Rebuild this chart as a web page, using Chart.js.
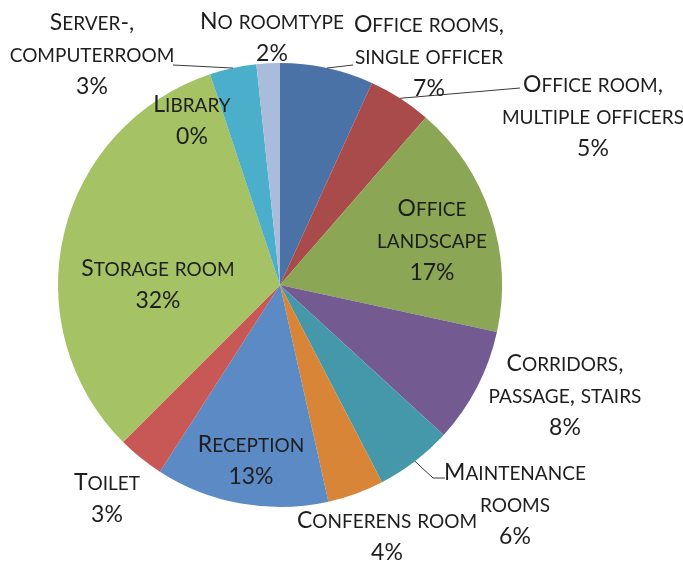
<!DOCTYPE html>
<html>
<head>
<meta charset="utf-8">
<script src="https://cdn.jsdelivr.net/npm/chart.js@4/dist/chart.umd.min.js"></script>
<style>
  html, body { margin: 0; padding: 0; background: #fff; }
  #wrap { width: 683px; height: 565px; position: relative; }
</style>
</head>
<body>
<div id="wrap"><canvas id="roomPie" width="683" height="565"></canvas></div>
<script>
// ============================================================
// Room type distribution — pie with Excel-style small-caps labels
// ============================================================

// ── Data ────────────────────────────────────────────────────

const categories = [
  'Office rooms, single officer',
  'Office room, multiple officers',
  'Office landscape',
  'Corridors, passage, stairs',
  'Maintenance rooms',
  'Conferens room',
  'Reception',
  'Toilet',
  'Storage room',
  'Library',
  'Server-, computerroom',
  'No roomtype'
];

const shares = [6.8, 4.6, 17.0, 8.4, 5.6, 4.1, 12.6, 3.4, 32.4, 0, 3.4, 1.7];

const sliceColors = [
  '#4a72a6', '#a94b4a', '#8ba654', '#735b92', '#4598a9', '#d88537',
  '#5b8ac5', '#c75855', '#a5c365', '#8064a2', '#4bafcb', '#a9bcdb'
];

// label text split into lines (percent line is appended from the data)
const labelLines = [
  ['Office rooms,', 'single officer'],
  ['Office room,', 'multiple officers'],
  ['Office', 'landscape'],
  ['Corridors,', 'passage, stairs'],
  ['Maintenance', 'rooms'],
  ['Conferens room'],
  ['Reception'],
  ['Toilet'],
  ['Storage room'],
  ['Library'],
  ['Server-,', 'computerroom'],
  ['No roomtype']
];

// ── Label layout (offsets from pie centre, in radii) ────────

const R = 222;
const labelPos = [
  [ 149 / R, -253 / R],
  [ 313 / R, -193 / R],
  [ 152 / R,  -69 / R],
  [ 285 / R,   86 / R],
  [ 235 / R,  195 / R],
  [ 107 / R,  243 / R],
  [ -29 / R,  167 / R],
  [-173 / R,  205 / R],
  [-122 / R,   -9 / R],
  [ -88 / R, -173 / R],
  [-188 / R, -255 / R],
  [  -8 / R, -256 / R]
];

// leader lines: slice index -> extra points after the arc edge (in radii from centre)
const leaders = {
  0:  [[ 73 / R, -220 / R]],
  1:  [[240 / R, -197 / R]],
  4:  [[153 / R,  193 / R], [165 / R, 193 / R]],
  10: [[-107 / R, -220 / R]]
};

const LINE_H = 32;
const BIG = 23, SMALL = 19;
const FAMILY = 'Lato, "Open Sans", sans-serif';

// ── Small caps text ─────────────────────────────────────────

function runsOf(text) {
  const runs = [];
  for (const ch of text) {
    const small = ch !== ch.toUpperCase();
    const last = runs[runs.length - 1];
    if (last && last.small === small) last.t += ch.toUpperCase();
    else runs.push({ t: ch.toUpperCase(), small });
  }
  return runs;
}

function drawSmallCaps(ctx, text, cx, y) {
  const runs = runsOf(text);
  let w = 0;
  runs.forEach(r => {
    ctx.font = (r.small ? SMALL : BIG) + 'px ' + FAMILY;
    r.w = ctx.measureText(r.t).width;
    w += r.w;
  });
  let x = cx - w / 2;
  runs.forEach(r => {
    ctx.font = (r.small ? SMALL : BIG) + 'px ' + FAMILY;
    ctx.fillText(r.t, x, y);
    x += r.w;
  });
}

// ── Label plugin ────────────────────────────────────────────

const pieLabels = {
  id: 'pieLabels',
  afterDatasetsDraw(chart) {
    const ctx = chart.ctx;
    const meta = chart.getDatasetMeta(0);
    const total = shares.reduce((a, b) => a + b, 0);
    ctx.save();

    // leader lines
    ctx.strokeStyle = '#3a3a3a';
    ctx.lineWidth = 1;
    Object.keys(leaders).forEach(k => {
      const arc = meta.data[k];
      const mid = (arc.startAngle + arc.endAngle) / 2;
      const r = arc.outerRadius;
      ctx.beginPath();
      ctx.moveTo(arc.x + Math.cos(mid) * r, arc.y + Math.sin(mid) * r);
      leaders[k].forEach(p => ctx.lineTo(arc.x + p[0] * r, arc.y + p[1] * r));
      ctx.stroke();
    });

    // text
    ctx.fillStyle = '#1e1e1e';
    ctx.textAlign = 'left';
    ctx.textBaseline = 'alphabetic';
    meta.data.forEach((arc, i) => {
      const r = arc.outerRadius;
      const cx = arc.x + labelPos[i][0] * r;
      let y = arc.y + labelPos[i][1] * r;
      const lines = labelLines[i].concat([Math.round(shares[i] / total * 100) + '%']);
      lines.forEach(line => {
        drawSmallCaps(ctx, line, cx, y);
        y += LINE_H;
      });
    });
    ctx.restore();
  }
};

// ── Chart ───────────────────────────────────────────────────

new Chart(document.getElementById('roomPie'), {
  type: 'pie',
  data: {
    labels: categories,
    datasets: [{
      data: shares,
      backgroundColor: sliceColors,
      borderWidth: 0,
      hoverOffset: 0
    }]
  },
  options: {
    responsive: false,
    animation: false,
    layout: { padding: { left: 58, top: 63, right: 181, bottom: 58 } },
    plugins: {
      legend:  { display: false },
      tooltip: { enabled: false }
    }
  },
  plugins: [pieLabels]
});
</script>
</body>
</html>
